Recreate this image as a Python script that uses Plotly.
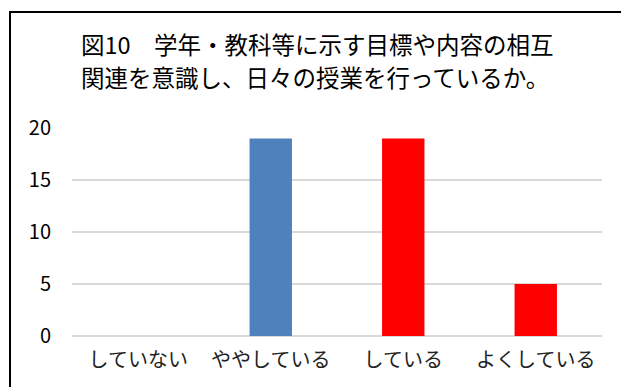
import plotly.graph_objects as go

categories = ["していない", "ややしている", "している", "よくしている"]
values = [0, 19, 19, 5]
bar_colors = ["#4F81BD", "#4F81BD", "#FF0000", "#FF0000"]
y_ticks = [0, 5, 10, 15, 20]
title_line1 = "図10　学年・教科等に示す目標や内容の相互"
title_line2 = "関連を意識し、日々の授業を行っているか。"

FONT = "Noto Sans CJK JP"

fig = go.Figure(go.Bar(
    x=categories, y=values, marker_color=bar_colors,
    marker_line_width=0, width=0.32,
))

W, H = 621, 387
L, R, T, B = 72, 19, 128, 51
pw, ph = W - L - R, H - T - B

def px_x(p):
    return (p - L) / pw

def px_y(p):
    return (H - B - p) / ph

fig.update_layout(
    width=W, height=H,
    margin=dict(l=L, r=R, t=T, b=B),
    paper_bgcolor="white", plot_bgcolor="white",
    showlegend=False,
    font=dict(family=FONT, color="#000000"),
    xaxis=dict(showline=False, showgrid=False, ticks="",
               tickfont=dict(size=20, color="#222222", family=FONT),
               ticklabelstandoff=10),
    yaxis=dict(range=[0, 20], tickvals=y_ticks, showline=False,
               gridcolor="#D9D9D9", gridwidth=1.5,
               zeroline=True, zerolinecolor="#D9D9D9", zerolinewidth=1.5,
               tickfont=dict(size=20, color="#000000", family=FONT),
               ticklabelstandoff=20),
    shapes=[dict(type="rect", xref="paper", yref="paper",
                 x0=px_x(10), x1=px_x(640), y0=px_y(400), y1=px_y(12),
                 line=dict(color="black", width=2), fillcolor="rgba(0,0,0,0)")],
    annotations=[
        dict(text=title_line1, xref="paper", yref="paper", x=px_x(79), y=px_y(44),
             xanchor="left", yanchor="middle", showarrow=False,
             font=dict(size=23.5, family=FONT, color="#000000")),
        dict(text=title_line2, xref="paper", yref="paper", x=px_x(79), y=px_y(77),
             xanchor="left", yanchor="middle", showarrow=False,
             font=dict(size=23.5, family=FONT, color="#000000")),
    ],
)

fig.write_html("out.html", config={"displayModeBar": False},
               post_script="document.body.style.margin='0';document.body.style.overflow='hidden';")
